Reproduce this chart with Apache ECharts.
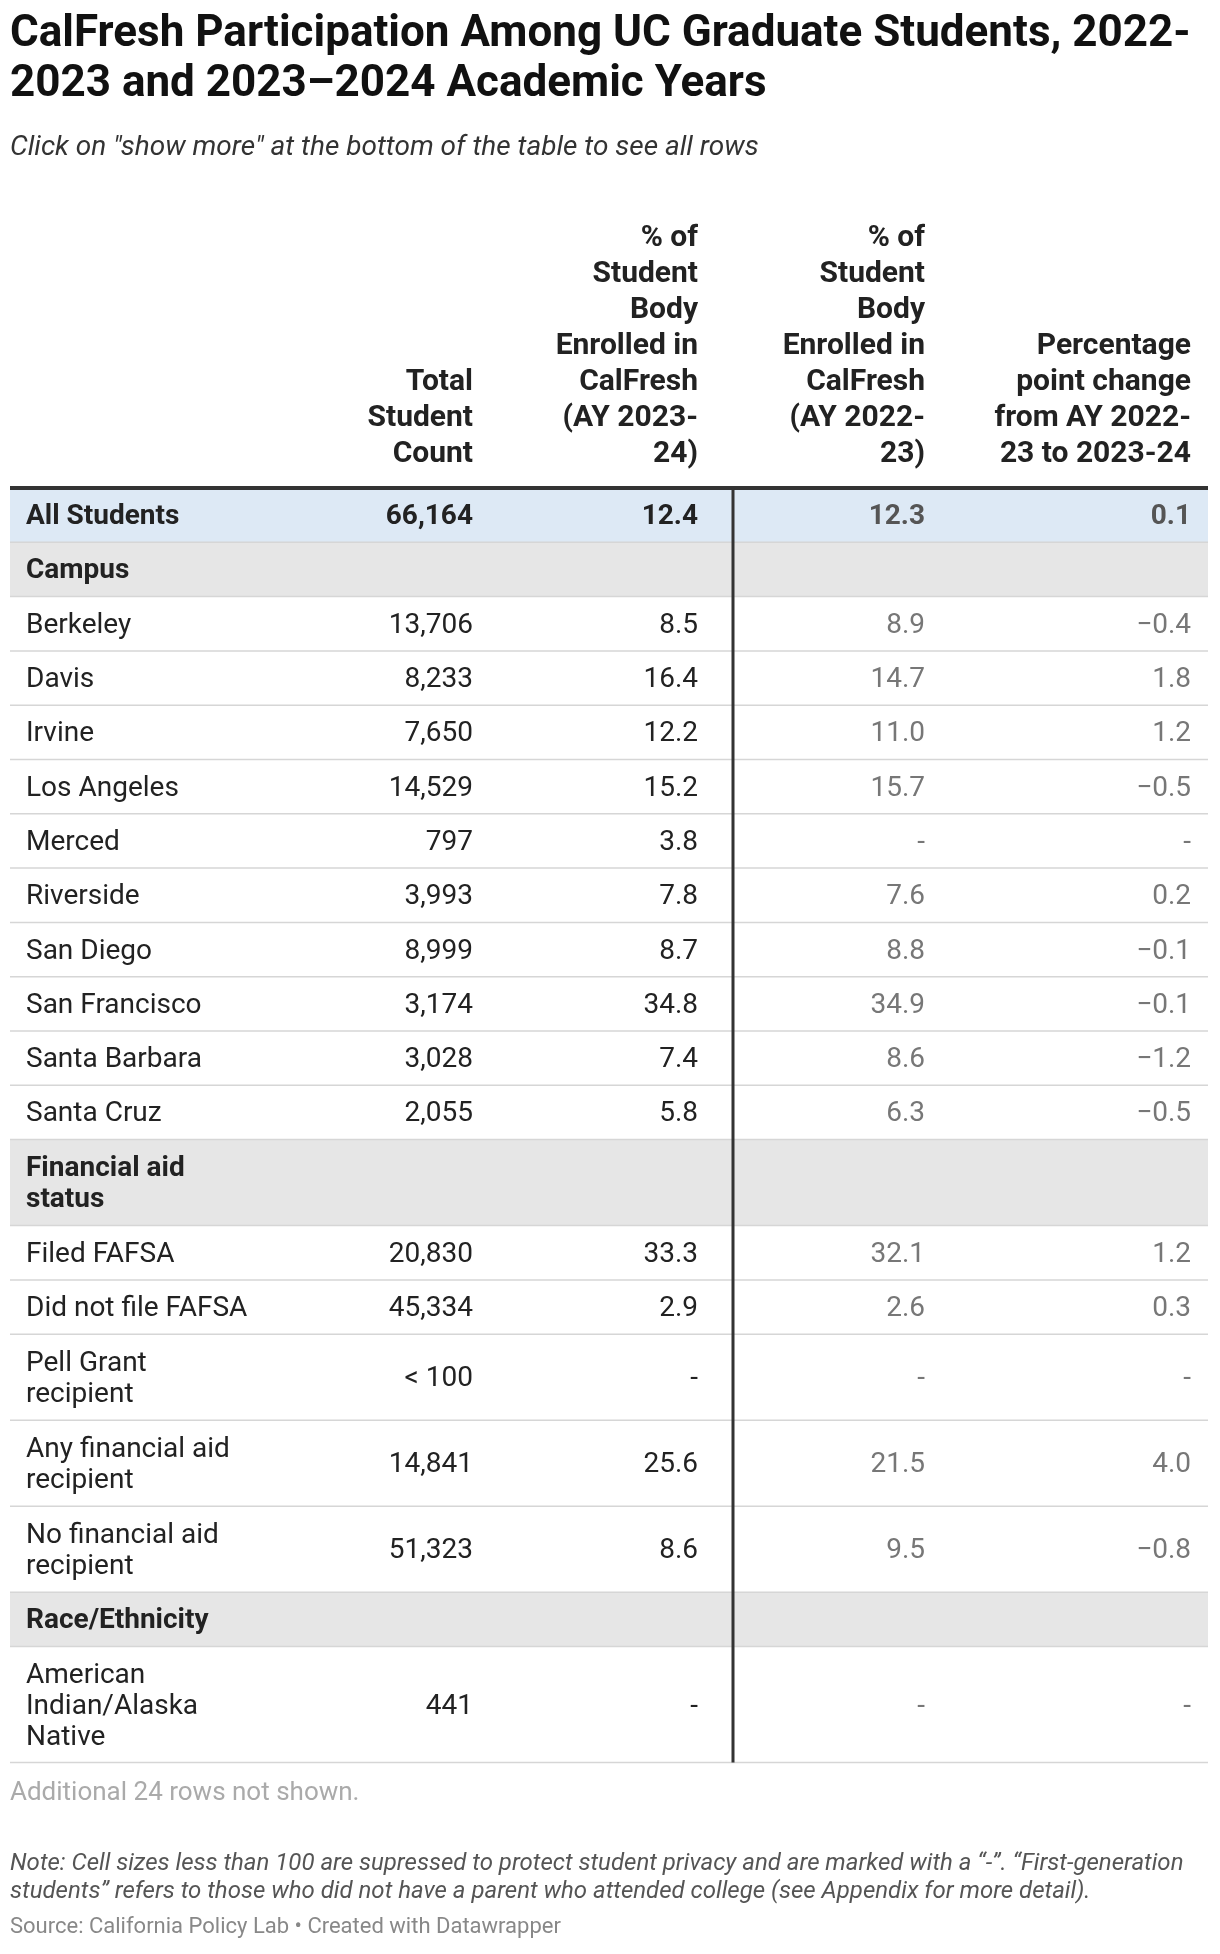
<!DOCTYPE html>
<html>
<head>
<meta charset="utf-8">
<script src="https://cdn.jsdelivr.net/npm/echarts@6/dist/echarts.min.js"></script>
<style>
  html, body { margin: 0; padding: 0; background: #fff; }
  #chart { width: 1220px; height: 1954px; }
</style>
</head>
<body>
<div id="chart"></div>
<script>
// table data
const headers = ['Total\nStudent\nCount', '% of\nStudent\nBody\nEnrolled in\nCalFresh\n(AY 2023-\n24)', '% of\nStudent\nBody\nEnrolled in\nCalFresh\n(AY 2022-\n23)', 'Percentage\npoint change\nfrom AY 2022-\n23 to 2023-24'];
const rowLabels = ['All Students', 'Campus', 'Berkeley', 'Davis', 'Irvine', 'Los Angeles', 'Merced', 'Riverside', 'San Diego', 'San Francisco', 'Santa Barbara', 'Santa Cruz', 'Financial aid\nstatus', 'Filed FAFSA', 'Did not file FAFSA', 'Pell Grant\nrecipient', 'Any financial aid\nrecipient', 'No financial aid\nrecipient', 'Race/Ethnicity', 'American\nIndian/Alaska\nNative'];
const rowKind = ['total', 'group', 'row', 'row', 'row', 'row', 'row', 'row', 'row', 'row', 'row', 'row', 'group', 'row', 'row', 'row', 'row', 'row', 'group', 'row'];
const totalCount = ['66,164', '', '13,706', '8,233', '7,650', '14,529', '797', '3,993', '8,999', '3,174', '3,028', '2,055', '', '20,830', '45,334', '< 100', '14,841', '51,323', '', '441'];
const pct2324 = ['12.4', '', '8.5', '16.4', '12.2', '15.2', '3.8', '7.8', '8.7', '34.8', '7.4', '5.8', '', '33.3', '2.9', '-', '25.6', '8.6', '', '-'];
const pct2223 = ['12.3', '', '8.9', '14.7', '11.0', '15.7', '-', '7.6', '8.8', '34.9', '8.6', '6.3', '', '32.1', '2.6', '-', '21.5', '9.5', '', '-'];
const ppChange = ['0.1', '', '\u22120.4', '1.8', '1.2', '\u22120.5', '-', '0.2', '\u22120.1', '\u22120.1', '\u22121.2', '\u22120.5', '', '1.2', '0.3', '-', '4.0', '\u22120.8', '', '-'];

const FONT = 'Roboto';
const colRight = [473, 698, 925, 1191];
const tableL = 10, tableR = 1208, divX = 733;
const headBottom = 488;
const lineH = 31;

const g = [];
// title
g.push({ type: 'text', left: 10, top: 10, style: { text: 'CalFresh Participation Among UC Graduate Students, 2022-\n2023 and 2023\u20132024 Academic Years', font: 'bold 44px ' + FONT, fill: '#111', lineHeight: 50 } });
g.push({ type: 'text', left: 10, top: 134, style: { text: 'Click on "show more" at the bottom of the table to see all rows', font: 'italic 28px ' + FONT, fill: '#333' } });

// headers
headers.forEach((h, i) => {
  const n = h.split('\n').length;
  g.push({ type: 'text', x: colRight[i], y: headBottom - 16 - n * 36, style: { text: h, font: 'bold 30px ' + FONT, fill: '#222', align: 'right', verticalAlign: 'top', lineHeight: 36 } });
});

// rows
let y = headBottom;
rowLabels.forEach((lab, i) => {
  const n = lab.split('\n').length;
  const h = n === 1 ? 54.3 : (n === 2 ? 86 : 116);
  if (rowKind[i] !== 'row') {
    g.push({ type: 'rect', shape: { x: tableL, y: y, width: tableR - tableL, height: h }, style: { fill: rowKind[i] === 'total' ? '#dde9f5' : '#e6e6e6' }, z: 0 });
  }
  g.push({ type: 'line', shape: { x1: tableL, y1: y + h, x2: tableR, y2: y + h }, style: { stroke: '#d6d6d6', lineWidth: 1.5 }, z: 1 });
  const cy = y + h / 2 + 2;
  const bold = rowKind[i] !== 'row';
  g.push({ type: 'text', x: 26, y: cy, style: { text: lab, font: (bold ? 'bold ' : '') + '28px ' + FONT, fill: '#222', verticalAlign: 'middle', lineHeight: lineH }, z: 2 });
  const vals = [totalCount[i], pct2324[i], pct2223[i], ppChange[i]];
  vals.forEach((v, c) => {
    if (!v) return;
    let fill = c < 2 ? '#222' : '#777';
    if (rowKind[i] === 'total' && c >= 2) fill = '#555';
    g.push({ type: 'text', x: colRight[c], y: cy, style: { text: v, font: (bold ? 'bold ' : '') + '28px ' + FONT, fill: fill, align: 'right', verticalAlign: 'middle' }, z: 2 });
  });
  y += h;
});

// rules
g.push({ type: 'line', shape: { x1: tableL, y1: headBottom, x2: tableR, y2: headBottom }, style: { stroke: '#333', lineWidth: 4 }, z: 3 });
g.push({ type: 'line', shape: { x1: divX, y1: headBottom, x2: divX, y2: y }, style: { stroke: '#333', lineWidth: 3 }, z: 3 });

// footer
g.push({ type: 'text', left: 10, top: 1780, style: { text: 'Additional 24 rows not shown.', font: '26px ' + FONT, fill: '#aaa' } });
g.push({ type: 'text', left: 10, top: 1850, style: { text: 'Note: Cell sizes less than 100 are supressed to protect student privacy and are marked with a \u201c-\u201d. \u201cFirst-generation\nstudents\u201d refers to those who did not have a parent who attended college (see Appendix for more detail).', font: 'italic 24px ' + FONT, fill: '#555', lineHeight: 28 } });
g.push({ type: 'text', left: 10, top: 1916, style: { text: 'Source: California Policy Lab \u2022 Created with Datawrapper', font: '22px ' + FONT, fill: '#888' } });

const chart = echarts.init(document.getElementById('chart'));
chart.setOption({ animation: false, graphic: g });
</script>
</body>
</html>
